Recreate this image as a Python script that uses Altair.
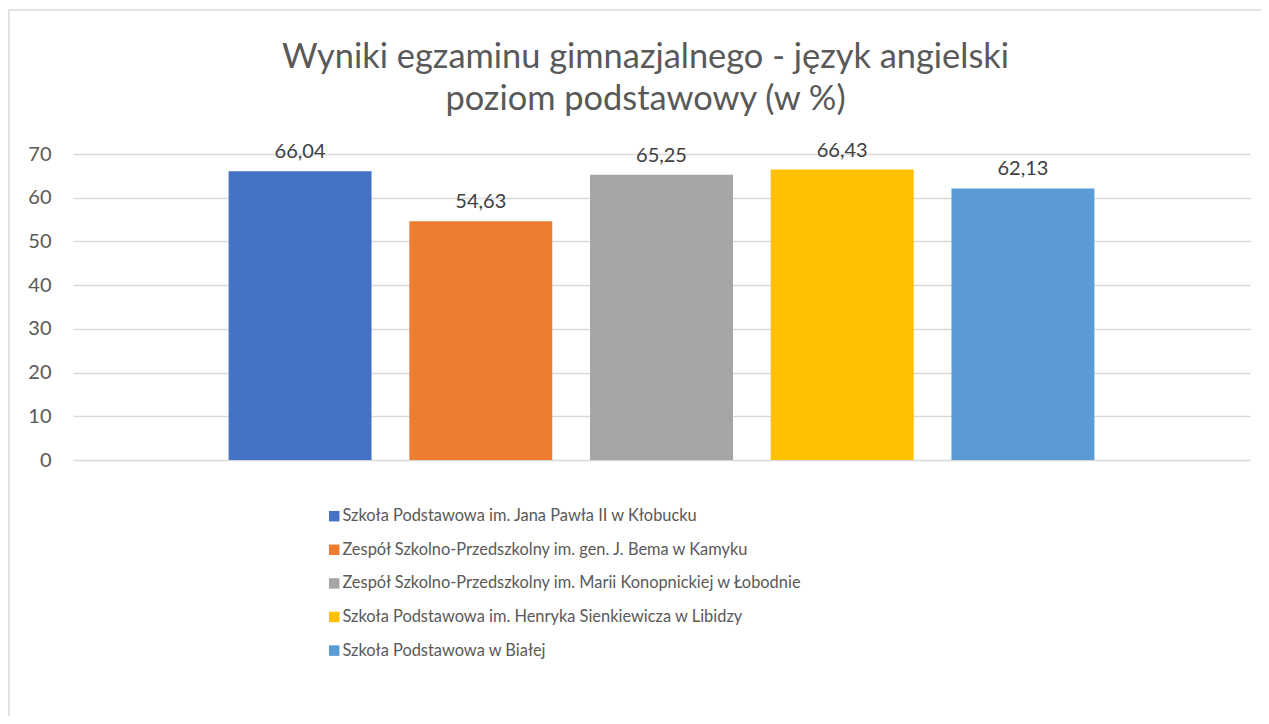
import altair as alt
import pandas as pd

schools = [
    "Szkoła Podstawowa im. Jana Pawła II w Kłobucku",
    "Zespół Szkolno-Przedszkolny im. gen. J. Bema w Kamyku",
    "Zespół Szkolno-Przedszkolny im. Marii Konopnickiej w Łobodnie",
    "Szkoła Podstawowa im. Henryka Sienkiewicza w Libidzy",
    "Szkoła Podstawowa w Białej",
]
values = [66.04, 54.63, 65.25, 66.43, 62.13]
colors = ["#4472C4", "#ED7D31", "#A5A5A5", "#FFC000", "#5B9BD5"]
y_ticks = [0, 10, 20, 30, 40, 50, 60, 70]

df = pd.DataFrame({
    "school": schools,
    "value": values,
    "label": [f"{v:.2f}".replace(".", ",") for v in values],
})

FONT = "Lato"
W, H = 1177, 306

x_enc = alt.X("school:N", sort=schools,
              scale=alt.Scale(paddingInner=0.209, paddingOuter=0.861),
              axis=None)
y_enc = alt.Y("value:Q", scale=alt.Scale(domain=[0, 70], nice=False),
              axis=alt.Axis(values=y_ticks, title=None, domain=False, ticks=False,
                            labelPadding=22, labelFontSize=20, labelColor="#595959",
                            labelFont=FONT, gridColor="#d9d9d9", gridWidth=1.3))

border = alt.Chart(pd.DataFrame({"b": [0]})).mark_rect(
    fillOpacity=0, stroke="#d9d9d9", strokeWidth=1.5
).encode(x=alt.value(-64), x2=alt.value(1250), y=alt.value(-144), y2=alt.value(640))

bars = alt.Chart(df).mark_bar().encode(
    x=x_enc, y=y_enc,
    color=alt.Color("school:N", sort=schools,
                    scale=alt.Scale(domain=schools, range=colors),
                    legend=alt.Legend(title=None, orient="none", legendX=253, legendY=354,
                                      direction="vertical", symbolType="square",
                                      symbolSize=110, symbolStrokeWidth=0,
                                      labelFont=FONT, labelFontSize=16.4,
                                      labelColor="#595959", labelLimit=800,
                                      rowPadding=16.6, labelOffset=0)),
)

texts = alt.Chart(df).mark_text(
    baseline="bottom", dy=-9, fontSize=20, font=FONT, color="#404040"
).encode(x=alt.X("school:N", sort=schools), y="value:Q", text="label:N")

chart = alt.layer(bars, texts, border).properties(
    width=W, height=H,
    background="white",
    title=alt.TitleParams(
        ["Wyniki egzaminu gimnazjalnego - język angielski", "poziom podstawowy (w %)"],
        fontSize=34.4, font=FONT, fontWeight="normal", color="#595959",
        anchor="middle", frame="group", offset=-108, lineHeight=42, dx=-16),
    autosize=alt.AutoSizeParams(type="none"),
    padding={"left": 65, "top": 146, "right": 11, "bottom": 256},
).configure_view(stroke=None)

chart.save("out.html", embed_options={"renderer": "svg", "actions": False})
